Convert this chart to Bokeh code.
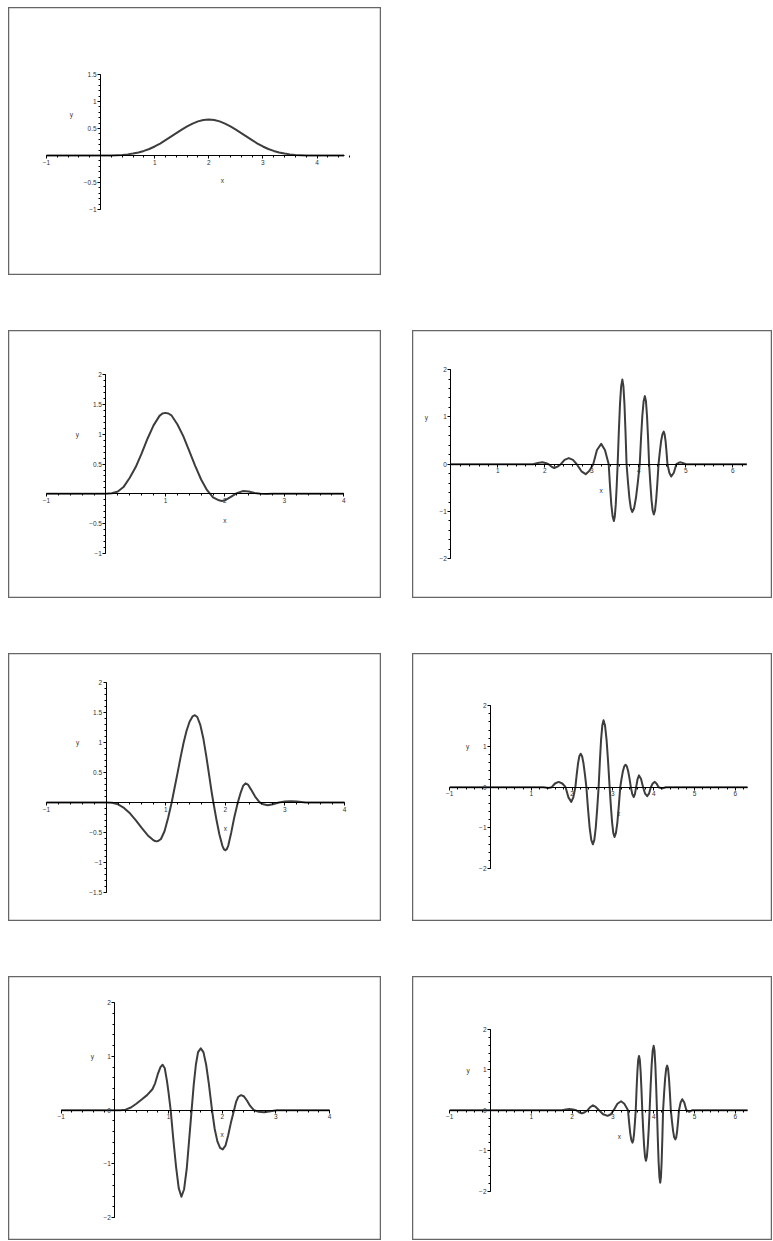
from bokeh.plotting import figure
from bokeh.models import FixedTicker, Label, Range1d, Row, Column, Spacer
from bokeh.embed import file_html
from bokeh.resources import INLINE
import numpy as np

FONT = "Liberation Sans"

# ---------------- data ----------------
P1_X = [-1, 0, 0.1, 0.2, 0.3, 0.4, 0.5, 0.6, 0.7, 0.8, 0.9, 1.0, 1.1, 1.2, 1.3, 1.4, 1.5, 1.6, 1.7, 1.8, 1.9, 2.0,
        2.1, 2.2, 2.3, 2.4, 2.5, 2.6, 2.7, 2.8, 2.9, 3.0, 3.1, 3.2, 3.3, 3.4, 3.5, 3.6, 3.7, 3.8, 3.9, 4.0, 4.5]
P1_Y = [0, 0, 0.0002, 0.001, 0.005, 0.011, 0.021, 0.036, 0.057, 0.085, 0.12, 0.167, 0.221, 0.283, 0.348, 0.415,
        0.479, 0.539, 0.59, 0.631, 0.657, 0.667,
        0.657, 0.631, 0.59, 0.539, 0.479, 0.415, 0.348, 0.283, 0.221, 0.167, 0.12, 0.085, 0.057, 0.036, 0.021,
        0.011, 0.005, 0.001, 0.0002, 0, 0]

P2_X = [-1, -0.5, 0, 0.1, 0.2, 0.3, 0.4, 0.5, 0.6, 0.7, 0.8, 0.9, 0.95, 1.0, 1.05, 1.1, 1.2, 1.3, 1.4, 1.5, 1.6,
        1.7, 1.8, 1.9, 1.95, 2.0, 2.1, 2.2, 2.3, 2.4, 2.5, 2.6, 2.7, 2.8, 3.0, 3.5, 4.0]
P2_Y = [0, 0, 0, 0.01, 0.04, 0.12, 0.27, 0.45, 0.68, 0.93, 1.15, 1.31, 1.35, 1.36, 1.35, 1.32, 1.17, 0.97, 0.72,
        0.47, 0.24, 0.06, -0.06, -0.11, -0.12, -0.11, -0.05, 0.01, 0.045, 0.04, 0.015, 0.0, -0.005, 0, 0, 0, 0]

P3_X = [0, 1.0, 1.75, 1.85, 1.95, 2.03, 2.08, 2.14, 2.2, 2.27, 2.34, 2.42, 2.51, 2.6, 2.68, 2.78, 2.87, 2.95,
        3.03, 3.11, 3.2, 3.28, 3.36,
        3.3875, 3.415, 3.4425, 3.47, 3.49, 3.51, 3.53, 3.55,
        3.575, 3.6, 3.625, 3.65, 3.6725, 3.695, 3.7175, 3.74,
        3.77, 3.8, 3.83, 3.86, 3.9, 3.94, 3.98, 4.02,
        4.0475, 4.075, 4.1025, 4.13, 4.1525, 4.175, 4.1975, 4.22,
        4.245, 4.27, 4.295, 4.32, 4.345, 4.37, 4.395, 4.42,
        4.4475, 4.475, 4.5025, 4.53, 4.55, 4.57, 4.59, 4.61,
        4.65, 4.69, 4.745, 4.8, 4.85, 4.89, 4.95, 5.0, 6.3]
P3_Y = [0, 0, 0, 0.025, 0.04, 0.02, 0, -0.05, -0.08, -0.05, 0, 0.09, 0.13, 0.09, 0, -0.15, -0.21, -0.14, 0, 0.3,
        0.43, 0.3, 0,
        -0.46, -0.85, -1.1, -1.2, -1.1, -0.85, -0.46, 0,
        0.68, 1.27, 1.65, 1.79, 1.65, 1.27, 0.68, 0,
        -0.38, -0.71, -0.93, -1.01, -0.93, -0.71, -0.38, 0,
        0.55, 1.02, 1.33, 1.44, 1.33, 1.02, 0.55, 0,
        -0.4, -0.75, -0.98, -1.06, -0.98, -0.75, -0.4, 0,
        0.26, 0.49, 0.63, 0.69, 0.63, 0.49, 0.26, 0,
        -0.18, -0.26, -0.18, 0, 0.03, 0.04, 0.02, 0, 0]

P4_X = [-1, 0, 0.1, 0.2, 0.3, 0.4, 0.5, 0.6, 0.7, 0.78, 0.82, 0.85, 0.88, 0.92, 0.98, 1.04, 1.1, 1.15, 1.2, 1.25,
        1.3, 1.35, 1.4, 1.45, 1.49, 1.53, 1.58, 1.63, 1.68, 1.73, 1.77, 1.8, 1.85, 1.9, 1.95, 1.975, 2.0, 2.025,
        2.05, 2.1, 2.15, 2.21, 2.26, 2.3, 2.34, 2.38, 2.43, 2.5, 2.58, 2.64, 2.71, 2.8, 2.9, 3.0, 3.1, 3.2, 3.35,
        4.0]
P4_Y = [0, 0, -0.005, -0.03, -0.09, -0.18, -0.3, -0.43, -0.55, -0.62, -0.645, -0.65, -0.64, -0.61, -0.48, -0.26,
        0, 0.25, 0.5, 0.76, 1.0, 1.2, 1.35, 1.44, 1.46, 1.43, 1.3, 1.08, 0.78, 0.45, 0.18, 0, -0.28, -0.53, -0.72,
        -0.78, -0.8, -0.78, -0.72, -0.5, -0.25, 0, 0.17, 0.28, 0.32, 0.3, 0.22, 0.1, 0, -0.03, -0.045, -0.03, 0,
        0.015, 0.02, 0.015, 0, 0]

P5_X = [-1, 1.3, 1.42, 1.5, 1.58, 1.67, 1.76, 1.84, 1.91, 1.98, 2.03, 2.08,
        2.1125, 2.145, 2.1775, 2.21, 2.245, 2.28, 2.315, 2.35,
        2.39, 2.43, 2.47, 2.51, 2.545, 2.58, 2.615, 2.65,
        2.68, 2.71, 2.74, 2.77, 2.8075, 2.845, 2.8825, 2.92,
        2.95, 2.98, 3.01, 3.04, 3.075, 3.11, 3.145, 3.18,
        3.2125, 3.245, 3.2775, 3.31, 3.3425, 3.375, 3.4075, 3.44,
        3.475, 3.51, 3.54, 3.57, 3.605, 3.64, 3.69, 3.74, 3.79, 3.84, 3.885, 3.93, 3.975, 4.02, 4.07, 4.12,
        4.2, 4.3, 6.3]
P5_Y = [0, 0, -0.02, 0, 0.09, 0.13, 0.09, 0, -0.25, -0.36, -0.25, 0,
        0.31, 0.58, 0.76, 0.82, 0.76, 0.58, 0.31, 0,
        -0.53, -0.99, -1.29, -1.4, -1.29, -0.99, -0.53, 0,
        0.62, 1.16, 1.51, 1.64, 1.51, 1.16, 0.62, 0,
        -0.46, -0.86, -1.12, -1.22, -1.12, -0.86, -0.46, 0,
        0.21, 0.39, 0.51, 0.55, 0.51, 0.39, 0.21, 0,
        -0.17, -0.24, -0.17, 0, 0.2, 0.29, 0.2, 0, -0.16, -0.22, -0.16, 0, 0.09, 0.13, 0.09, 0,
        -0.03, 0, 0]

P6_X = [-1, 0, 0.1, 0.2, 0.3, 0.4, 0.5, 0.6, 0.7, 0.75, 0.8, 0.85, 0.89, 0.93, 0.97, 1.0, 1.04, 1.09, 1.14, 1.19,
        1.24, 1.29, 1.34, 1.38, 1.43, 1.47, 1.51, 1.55, 1.6, 1.65, 1.7, 1.75, 1.81, 1.86, 1.91, 1.96, 2.01, 2.06,
        2.11, 2.16, 2.22, 2.26, 2.3, 2.35, 2.4, 2.46, 2.52, 2.59, 2.68, 2.78, 2.9, 3.02, 4.0]
P6_Y = [0, 0, 0, 0.01, 0.05, 0.12, 0.2, 0.28, 0.39, 0.5, 0.67, 0.8, 0.845, 0.78, 0.55, 0.33, 0, -0.55, -1.05,
        -1.45, -1.61, -1.47, -1.08, -0.6, 0, 0.48, 0.85, 1.08, 1.15, 1.08, 0.85, 0.5, 0, -0.35, -0.58, -0.7, -0.73,
        -0.66, -0.47, -0.24, 0, 0.16, 0.25, 0.28, 0.26, 0.18, 0.08, 0, -0.03, -0.04, -0.02, 0, 0]

P7_X = [-1, 1.75, 1.85, 1.93, 2.02, 2.1, 2.17, 2.24, 2.31, 2.38, 2.45, 2.51, 2.58, 2.66, 2.76, 2.87, 2.95, 3.02,
        3.11, 3.2, 3.28, 3.37,
        3.3975, 3.425, 3.4525, 3.48, 3.5, 3.52, 3.54, 3.56,
        3.58, 3.6, 3.62, 3.64, 3.66, 3.68, 3.7, 3.72,
        3.7425, 3.765, 3.7875, 3.81, 3.8325, 3.855, 3.8775, 3.9,
        3.925, 3.95, 3.975, 4.0, 4.02, 4.04, 4.06, 4.08,
        4.1, 4.12, 4.14, 4.16, 4.1775, 4.195, 4.2125, 4.23,
        4.255, 4.28, 4.305, 4.33, 4.3525, 4.375, 4.3975, 4.42,
        4.4475, 4.475, 4.5025, 4.53, 4.5525, 4.575, 4.5975, 4.62,
        4.66, 4.7, 4.75, 4.8, 4.87, 4.95, 6.3]
P7_Y = [0, 0, 0.02, 0.03, 0.02, 0, -0.05, -0.08, -0.05, 0, 0.08, 0.12, 0.08, 0, -0.1, -0.14, -0.1, 0, 0.16, 0.22,
        0.16, 0,
        -0.3, -0.57, -0.74, -0.8, -0.74, -0.57, -0.3, 0,
        0.51, 0.95, 1.24, 1.34, 1.24, 0.95, 0.51, 0,
        -0.48, -0.88, -1.15, -1.25, -1.15, -0.88, -0.48, 0,
        0.6, 1.12, 1.47, 1.59, 1.47, 1.12, 0.6, 0,
        -0.68, -1.27, -1.65, -1.79, -1.65, -1.27, -0.68, 0,
        0.42, 0.78, 1.02, 1.1, 1.02, 0.78, 0.42, 0,
        -0.27, -0.51, -0.67, -0.72, -0.67, -0.51, -0.27, 0,
        0.19, 0.27, 0.19, 0, -0.04, 0, 0]

# tick values
X_TICKS_A = [-1, 1, 2, 3, 4]
X_TICKS_B = [1, 2, 3, 4, 5, 6]
X_TICKS_C = [-1, 1, 2, 3, 4, 5, 6]
Y_TICKS_1 = [-1, -0.5, 0.5, 1, 1.5]
Y_TICKS_2 = [-1, -0.5, 0.5, 1, 1.5, 2]
Y_TICKS_4 = [-1.5, -1, -0.5, 0.5, 1, 1.5, 2]
Y_TICKS_W = [-2, -1, 0, 1, 2]

LINE_COLOR = "#3d3d3d"
TEXT_COLOR = "#333333"


def fmt(t):
    s = "%g" % abs(t)
    return ("\u2212" + s) if t < 0 else s


def minor_list(lo, hi, step):
    n = int(round((hi - lo) / step))
    return [round(lo + i * step, 3) for i in np.arange(n + 1)]


def panel(xs, ys, w, h, xr, yr, xb, yb, xticks, yticks, xstep, ystep, xlab, ylab):
    p = figure(width=w, height=h, x_range=Range1d(*xr), y_range=Range1d(*yr),
               output_backend="svg", toolbar_location=None, min_border=0,
               background_fill_color="white", border_fill_color="white")
    p.grid.visible = False
    p.outline_line_color = "#666666"
    p.outline_line_width = 1.5
    p.xaxis.fixed_location = 0
    p.yaxis.fixed_location = 0
    for ax, ticks, bounds, step in ((p.xaxis[0], xticks, xb, xstep), (p.yaxis[0], yticks, yb, ystep)):
        ax.ticker = FixedTicker(ticks=ticks, minor_ticks=minor_list(bounds[0], bounds[1], step))
        ax.major_label_overrides = {t: fmt(t) for t in ticks}
        ax.bounds = bounds
        ax.axis_line_color = "black"
        ax.axis_line_width = 1
        ax.major_tick_in = 0
        ax.major_tick_out = 3
        ax.minor_tick_in = 0
        ax.minor_tick_out = 2
        ax.major_tick_line_color = "black"
        ax.minor_tick_line_color = "black"
        ax.major_label_text_font = FONT
        ax.major_label_text_font_size = "6.5px"
        ax.major_label_text_color = TEXT_COLOR
        ax.major_label_standoff = 1
    p.line(xs, ys, line_width=2, line_color=LINE_COLOR, line_join="round")
    for (lx, ly), t in ((xlab, "x"), (ylab, "y")):
        p.add_layout(Label(x=lx, y=ly, text=t, text_font=FONT, text_font_size="6.5px",
                           text_color=TEXT_COLOR, text_align="center", text_baseline="middle"))
    return p


WL, WR, H, HB = 373, 360, 268, 264

p1 = panel(P1_X, P1_Y, WL, H, (-1.702, 5.192), (-2.218, 2.736), (-1, 4.5), (-1, 1.5),
           X_TICKS_A, Y_TICKS_1, 0.2, 0.1, (2.25, -0.46), (-0.54, 0.76))
p2 = panel(P2_X, P2_Y, WL, H, (-1.639, 4.633), (-1.760, 2.745), (-1, 4), (-1, 2),
           X_TICKS_A, Y_TICKS_2, 0.2, 0.1, (2.0, -0.45), (-0.48, 0.99))
p3 = panel(P3_X, P3_Y, WR, H, (-0.815, 6.845), (-2.839, 2.827), (0, 6.3), (-2, 2),
           X_TICKS_B, Y_TICKS_W, 0.2, 0.2, (3.2, -0.56), (-0.52, 0.98))
p4 = panel(P4_X, P4_Y, WL, H, (-1.638, 4.621), (-1.990, 2.492), (-1, 4), (-1.5, 2),
           X_TICKS_A, Y_TICKS_4, 0.2, 0.1, (2.0, -0.44), (-0.48, 1.0))
p5 = panel(P5_X, P5_Y, WR, H, (-1.912, 6.912), (-3.292, 3.277), (-1, 6.3), (-2, 2),
           X_TICKS_C, Y_TICKS_W, 0.2, 0.2, (3.14, -0.64), (-0.56, 0.99))
p6 = panel(P6_X, P6_Y, WL, HB, (-1.980, 4.966), (-2.424, 2.487), (-1, 4), (-2, 2),
           X_TICKS_A, Y_TICKS_W, 0.2, 0.2, (2.0, -0.45), (-0.42, 0.99))
p7 = panel(P7_X, P7_Y, WR, HB, (-1.912, 6.912), (-3.217, 3.301), (-1, 6.3), (-2, 2),
           X_TICKS_C, Y_TICKS_W, 0.2, 0.2, (3.16, -0.66), (-0.55, 0.99))

grid = Column(children=[
    Row(children=[p1], spacing=31),
    Row(children=[p2, p3], spacing=31),
    Row(children=[p4, p5], spacing=31),
    Row(children=[p6, p7], spacing=31),
], spacing=55)

layout = Column(children=[Spacer(width=8, height=7),
                          Row(children=[Spacer(width=8, height=10), grid], spacing=0)],
                spacing=0)

open("out.html", "w").write(file_html(layout, INLINE))
